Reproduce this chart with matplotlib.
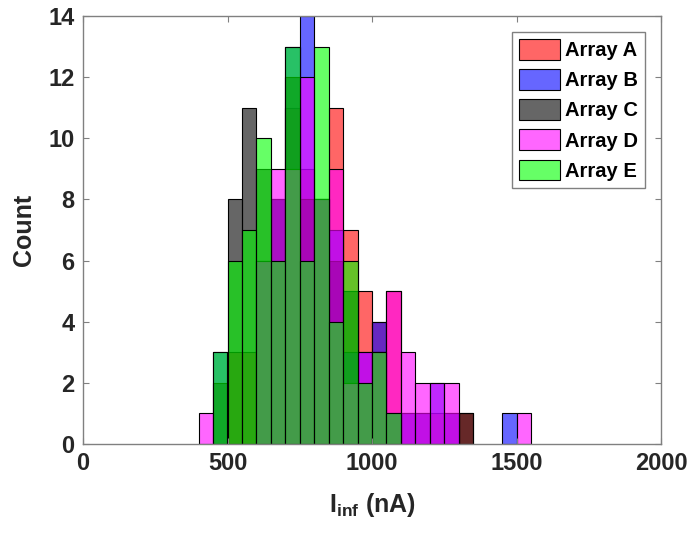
import numpy as np
import matplotlib.pyplot as plt

plt.rcParams['font.family'] = 'Liberation Sans'
plt.rcParams['font.weight'] = 'bold'
plt.rcParams['mathtext.fontset'] = 'custom'
plt.rcParams['mathtext.rm'] = 'Liberation Sans:bold'
plt.rcParams['mathtext.bf'] = 'Liberation Sans:bold'

# bin edges (nA), 50 nA wide
edges = np.arange(400, 1551, 50)

names = ['Array A', 'Array B', 'Array C', 'Array D', 'Array E']
count_a = [0, 0, 3, 3, 6, 6, 11, 9, 8, 11, 7, 5, 4, 5, 1, 1, 1, 1, 1, 0, 0, 0, 0]
count_b = [0, 3, 0, 0, 6, 8, 13, 14, 8, 7, 3, 3, 4, 1, 1, 1, 2, 1, 0, 0, 0, 1, 0]
count_c = [0, 2, 8, 11, 9, 8, 12, 8, 8, 6, 5, 2, 3, 1, 0, 0, 0, 0, 1, 0, 0, 0, 0]
count_d = [1, 0, 0, 0, 6, 9, 9, 12, 8, 9, 2, 3, 3, 5, 3, 2, 2, 2, 0, 0, 0, 0, 1]
count_e = [0, 3, 6, 7, 10, 6, 13, 6, 13, 4, 6, 2, 3, 1, 0, 0, 0, 0, 0, 0, 0, 0, 0]
colors = [(1, 0, 0), (0, 0, 1), (0, 0, 0), (1, 0, 1), (0, 1, 0)]

fig = plt.figure(figsize=(6.9, 5.34), dpi=100)
ax = fig.add_axes([83/690, 90/534, 578/690, 428/534])

handles = []
for cnt, col, name in zip([count_a, count_b, count_c, count_d, count_e], colors, names):
    cnt = np.array(cnt)
    keep = cnt > 0
    h = ax.bar(edges[:-1][keep], cnt[keep], width=50, align='edge',
               facecolor=col + (0.6,), edgecolor='k', linewidth=0.8, label=name)
    handles.append(h)

ax.set_xlim(0, 2000)
ax.set_ylim(0, 14)
ax.set_xticks([0, 500, 1000, 1500, 2000])
ax.set_yticks(range(0, 15, 2))
ax.tick_params(direction='in', top=True, right=True, length=4, width=0.8,
               color='#808080', labelsize=17, labelcolor='#262626', pad=6)
for s in ax.spines.values():
    s.set_color('#808080')
    s.set_linewidth(1.0)
for lab in ax.get_xticklabels() + ax.get_yticklabels():
    lab.set_fontweight('bold')

ax.set_xlabel(r'I$_{\mathbf{inf}}$ (nA)', fontsize=18, fontweight='bold',
              color='#262626', labelpad=11)
ax.set_ylabel('Count', fontsize=18, fontweight='bold', color='#262626', labelpad=9)

leg = ax.legend(handles=handles, loc='upper right', bbox_to_anchor=(0.972, 0.963),
                borderaxespad=0, fancybox=False, framealpha=1, edgecolor='#808080',
                prop={'weight': 'bold', 'size': 14.5}, handlelength=2.0,
                handleheight=1.2, labelspacing=0.45, handletextpad=0.25,
                borderpad=0.35)
leg.get_frame().set_linewidth(1.0)

fig.savefig('out.png', dpi=100)
